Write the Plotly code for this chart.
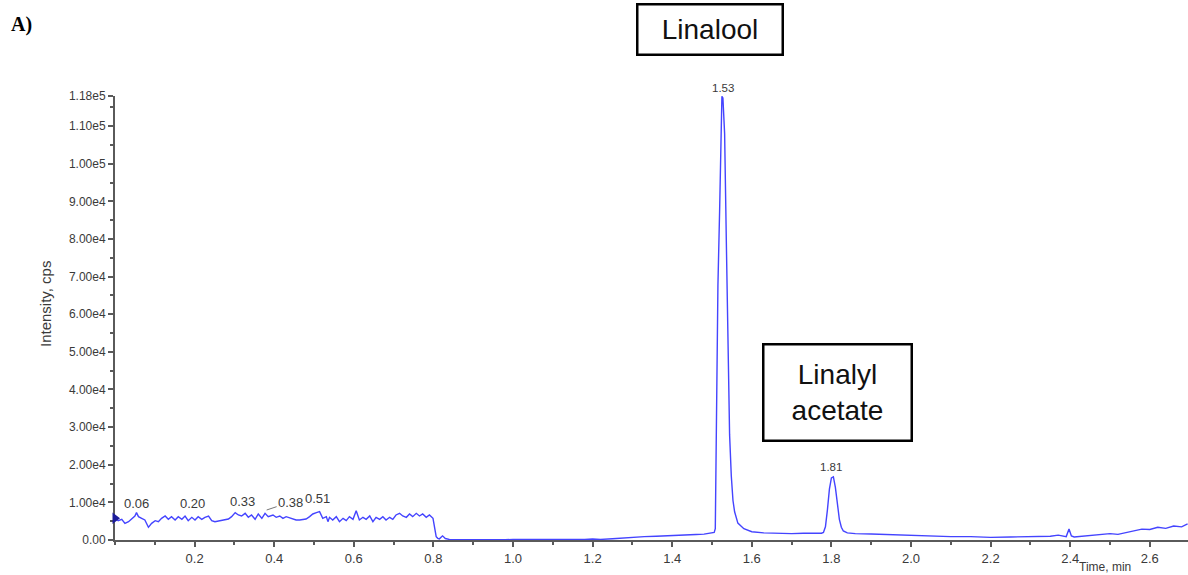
import plotly.graph_objects as go

# ---- data ----
time_min = [
    0.000, 0.008, 0.017, 0.025, 0.034, 0.042, 0.050, 0.054, 0.059, 0.067, 0.075, 0.084, 0.092,
    0.101, 0.109, 0.117, 0.126, 0.134, 0.142, 0.151, 0.159, 0.168, 0.176, 0.184, 0.193, 0.201,
    0.209, 0.218, 0.226, 0.235, 0.243, 0.251, 0.260, 0.268, 0.276, 0.285, 0.293, 0.302, 0.310,
    0.318, 0.327, 0.335, 0.343, 0.352, 0.360, 0.369, 0.377, 0.385, 0.397, 0.405, 0.414, 0.422,
    0.430, 0.439, 0.447, 0.455, 0.464, 0.472, 0.480, 0.489, 0.497, 0.506, 0.514, 0.522, 0.531,
    0.535, 0.539, 0.547, 0.556, 0.564, 0.573, 0.581, 0.589, 0.598, 0.606, 0.614, 0.623, 0.631,
    0.640, 0.648, 0.656, 0.665, 0.673, 0.681, 0.690, 0.698, 0.706, 0.715, 0.723, 0.732, 0.740,
    0.748, 0.757, 0.765, 0.773, 0.782, 0.790, 0.799, 0.803, 0.807, 0.811,
    0.815, 0.823, 0.830, 0.840, 0.860, 0.880, 0.900, 0.920, 0.950, 0.980, 1.000, 1.050, 1.100,
    1.150, 1.180, 1.200, 1.220, 1.250, 1.280, 1.300, 1.330, 1.360, 1.400, 1.430, 1.460, 1.480,
    1.500, 1.5055, 1.5083, 1.5108, 1.5149, 1.5191, 1.5216, 1.5249, 1.5274, 1.5317, 1.5359,
    1.5400, 1.5442, 1.5485, 1.5527, 1.5568, 1.565, 1.580, 1.600, 1.630, 1.660, 1.700, 1.730,
    1.760, 1.775, 1.780, 1.785, 1.790, 1.795, 1.800, 1.805, 1.810, 1.815, 1.820, 1.825, 1.830,
    1.840, 1.860, 1.900, 1.950, 2.000, 2.050, 2.100, 2.150, 2.200, 2.250, 2.300, 2.350, 2.370,
    2.390, 2.397, 2.403, 2.410, 2.450, 2.480, 2.500, 2.520, 2.550, 2.570, 2.580, 2.600, 2.620,
    2.640, 2.660, 2.680, 2.695,
]
intensity_cps = [
    5760, 5140, 5500, 4430, 4875, 5760, 6380, 7270, 6205, 5760, 5320, 3370, 4430,
    5140, 4875, 5760, 6380, 5500, 6205, 5320, 6205, 5500, 6380, 5140, 6030, 5320,
    6205, 5500, 6030, 6380, 5140, 4875, 5050, 5320, 5500, 5585, 6205, 7270, 6650,
    6380, 7090, 6030, 6650, 5500, 6915, 5760, 7090, 6205, 6650, 6030, 6380, 5760,
    6205, 5940, 5500, 5320, 5320, 5500, 5585, 6205, 6915, 7270, 7535, 5760, 6205,
    4875, 6030, 5320, 6205, 4875, 5760, 5140, 6205, 5500, 7800, 5320, 6030, 5500,
    6380, 4875, 6030, 5500, 6205, 5320, 6030, 5500, 6650, 7090, 6380, 6030, 6915,
    6205, 7090, 6380, 6915, 6030, 6650, 5760, 3550, 890, 440,
    300, 1100, 400, 150, 120, 100, 130, 100, 120, 100, 130, 100, 120,
    100, 150, 250, 150, 350, 600, 800, 900, 1000, 1100, 1300, 1450, 1550,
    1800, 2000, 3000, 32400, 67800, 87300, 103300, 117900, 117500, 108000, 80000,
    50000, 28000, 17000, 10500, 7500, 4500, 3000, 2200, 1900, 1800, 1700, 1800,
    1700, 1800, 2000, 3500, 8000, 13500, 16500, 16800, 14000, 9500, 5500, 3400, 2400,
    1900, 1700, 1600, 1400, 1300, 1100, 900, 900, 700, 800, 900, 1000, 1300,
    900, 2900, 1100, 800, 1200, 1400, 1700, 1500, 2200, 2500, 2900, 2800, 3400,
    3100, 3700, 3500, 4300,
]

# peak labels (retention time text, label anchor time, label anchor intensity)
peak_text = ["0.06", "0.20", "0.33", "0.51", "1.53", "1.81"]
peak_label_time = [0.055, 0.195, 0.320, 0.509, 1.527, 1.800]
peak_label_intensity = [9830, 9830, 10360, 10900, 117900, 19400]
arrow_peak_text = "0.38"
arrow_peak_time = 0.381
arrow_peak_intensity = 7970

y_tick_vals = [0, 10000, 20000, 30000, 40000, 50000, 60000, 70000, 80000, 90000, 100000, 110000, 118000]
y_tick_text = ["0.00", "1.00e4", "2.00e4", "3.00e4", "4.00e4", "5.00e4", "6.00e4", "7.00e4",
               "8.00e4", "9.00e4", "1.00e5", "1.10e5", "1.18e5"]
x_tick_vals = [0.2, 0.4, 0.6, 0.8, 1.0, 1.2, 1.4, 1.6, 1.8, 2.0, 2.2, 2.4, 2.6]
x_tick_text = ["0.2", "0.4", "0.6", "0.8", "1.0", "1.2", "1.4", "1.6", "1.8", "2.0", "2.2", "2.4", "2.6"]

FONT = "Liberation Sans, Arial, sans-serif"
LABEL_COLOR = "#3a3a3a"
AXIS_COLOR = "#5a5a5a"

fig = go.Figure()
fig.add_trace(go.Scatter(
    x=time_min, y=intensity_cps, mode="lines",
    line=dict(color="#4444ff", width=1.4), hoverinfo="skip", showlegend=False,
))
# start marker at the left edge
fig.add_trace(go.Scatter(
    x=[time_min[0]], y=[intensity_cps[0]], mode="markers",
    marker=dict(symbol="triangle-right", size=10, color="#1c1c9a"),
    cliponaxis=False, hoverinfo="skip", showlegend=False,
))

W, H = 1188, 575
L, R, T, B = 115, 0, 96, 35
pw = W - L - R
ph = H - T - B

def px_x(px):
    return (px - L) / pw

def px_y(py):
    return (H - B - py) / ph

annotations = []
for txt, t, yv in zip(peak_text, peak_label_time, peak_label_intensity):
    if yv >= 118000 * 0.99:
        annotations.append(dict(
            x=t, y=yv, xref="x", yref="y", text=txt, showarrow=False,
            font=dict(family=FONT, size=11.5, color=LABEL_COLOR),
            xanchor="center", yanchor="bottom", yshift=0,
        ))
    elif yv > 15000:
        annotations.append(dict(
            x=t, y=yv, xref="x", yref="y", text=txt, showarrow=False,
            font=dict(family=FONT, size=11.5, color=LABEL_COLOR),
            xanchor="center", yanchor="middle",
        ))
    else:
        annotations.append(dict(
            x=t, y=yv, xref="x", yref="y", text=txt, showarrow=False,
            font=dict(family=FONT, size=13, color=LABEL_COLOR),
            xanchor="center", yanchor="middle",
        ))
annotations.append(dict(
    x=arrow_peak_time, y=arrow_peak_intensity, xref="x", yref="y", text=arrow_peak_text,
    showarrow=True, arrowhead=0, arrowwidth=1, arrowcolor="#777777", ax=24, ay=-8,
    font=dict(family=FONT, size=13, color=LABEL_COLOR),
))
# compound boxes
annotations.append(dict(
    x=px_x(710), y=px_y(29.5), xref="paper", yref="paper", text="Linalool",
    showarrow=False, font=dict(family=FONT, size=28, color="#111111"),
    bordercolor="#000000", borderwidth=2.5, width=141, height=46, bgcolor="white",
    xanchor="center", yanchor="middle",
))
annotations.append(dict(
    x=px_x(837.5), y=px_y(392.5), xref="paper", yref="paper", text="Linalyl<br>acetate",
    showarrow=False, font=dict(family=FONT, size=28, color="#111111"),
    bordercolor="#000000", borderwidth=2.5, width=144, height=92, bgcolor="white",
    xanchor="center", yanchor="middle",
))
# panel label
annotations.append(dict(
    x=px_x(9), y=px_y(25), xref="paper", yref="paper", text="<b>A)</b>",
    showarrow=False, font=dict(family="Liberation Serif, Times New Roman, serif", size=20, color="#000000"),
    xanchor="left", yanchor="middle",
))
# axis titles
annotations.append(dict(
    x=px_x(1105), y=px_y(567), xref="paper", yref="paper", text="Time, min",
    showarrow=False, font=dict(family=FONT, size=12, color=LABEL_COLOR),
    xanchor="center", yanchor="middle",
))
annotations.append(dict(
    x=px_x(45), y=px_y(304), xref="paper", yref="paper", text="Intensity, cps",
    showarrow=False, textangle=-90, font=dict(family=FONT, size=15, color=LABEL_COLOR),
    xanchor="center", yanchor="middle",
))

fig.update_layout(
    width=W, height=H,
    margin=dict(l=L, r=R, t=T, b=B),
    paper_bgcolor="white", plot_bgcolor="white",
    annotations=annotations,
    xaxis=dict(
        range=[0, pw / 398.0], showgrid=False, zeroline=False,
        showline=True, linecolor=AXIS_COLOR, linewidth=2,
        ticks="outside", ticklen=5, tickwidth=1.5, tickcolor=AXIS_COLOR,
        tickmode="array", tickvals=x_tick_vals, ticktext=x_tick_text,
        tickfont=dict(family=FONT, size=13, color=LABEL_COLOR),
        minor=dict(dtick=0.1, tick0=0, ticks="outside", ticklen=3, tickcolor=AXIS_COLOR, tickwidth=1.5),
        layer="below traces", fixedrange=True,
    ),
    yaxis=dict(
        range=[0, 118000], showgrid=False, zeroline=False,
        showline=True, linecolor=AXIS_COLOR, linewidth=2,
        ticks="outside", ticklen=5, tickwidth=1.5, tickcolor=AXIS_COLOR,
        tickmode="array", tickvals=y_tick_vals, ticktext=y_tick_text,
        tickfont=dict(family=FONT, size=12, color=LABEL_COLOR),
        minor=dict(dtick=5000, tick0=0, ticks="outside", ticklen=3, tickcolor=AXIS_COLOR, tickwidth=1.5),
        layer="below traces", fixedrange=True,
    ),
)

# remove the default 8px page margin so the figure fills the window exactly
fig.write_html("out.html", config={"displayModeBar": False},
               post_script="document.body.style.margin='0px';")
